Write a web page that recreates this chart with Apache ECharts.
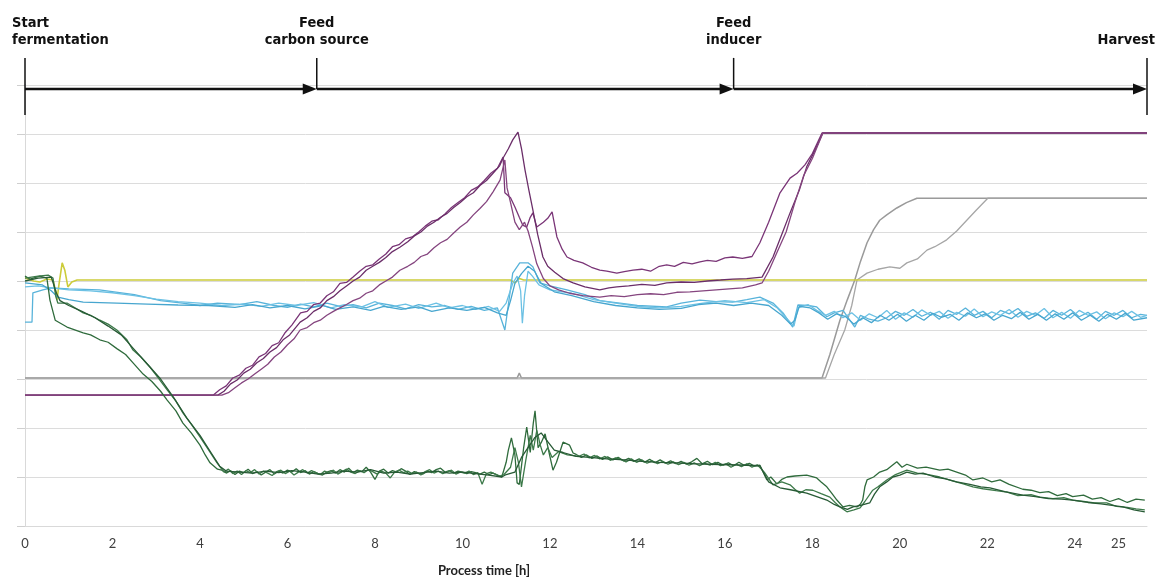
<!DOCTYPE html>
<html>
<head>
<meta charset="utf-8">
<script src="https://cdn.jsdelivr.net/npm/echarts@6/dist/echarts.min.js"></script>
<style>
html,body{margin:0;padding:0;background:#fff}
#chart{width:1158px;height:578px}
</style>
</head>
<body>
<div id="chart"></div>
<script>
// time axis [h]
var tMax = 25.65;
var xTickLabels = [0,2,4,6,8,10,12,14,16,18,20,22,24,25];

// process phases (time, label)
var phaseTimes = [0, 6.67, 16.2, 25.65];
var phaseLabels = ['Start\nfermentation', 'Feed\ncarbon source', 'Feed\ninducer', 'Harvest'];
var arrowLevel = 8.92;

// purple signals
var purpleA = [[0,2.67],[4.3,2.67],[4.45,2.78],[4.6,2.86],[4.75,3.02],[4.9,3.08],[5.05,3.22],[5.2,3.28],[5.35,3.45],[5.5,3.52],[5.65,3.68],[5.8,3.74],[5.95,3.95],[6.1,4.1],[6.3,4.35],[6.45,4.38],[6.6,4.52],[6.75,4.55],[6.9,4.7],[7.05,4.78],[7.2,4.95],[7.35,4.97],[7.5,5.08],[7.65,5.2],[7.8,5.3],[7.95,5.33],[8.1,5.45],[8.25,5.55],[8.4,5.7],[8.55,5.74],[8.7,5.86],[8.85,5.9],[9.0,6.0],[9.15,6.12],[9.3,6.22],[9.45,6.25],[9.6,6.37],[9.75,6.5],[9.9,6.6],[10.05,6.7],[10.2,6.85],[10.35,6.92],[10.5,7.05],[10.65,7.2],[10.8,7.3],[10.93,7.53],[10.97,6.8],[11.1,6.7],[11.2,6.51],[11.3,6.3],[11.38,6.14],[11.47,6.1],[11.55,6.3],[11.61,6.39],[11.7,6.1],[11.85,6.2],[11.95,6.28],[12.05,6.41],[12.16,5.9],[12.28,5.65],[12.39,5.49],[12.55,5.42],[12.75,5.37],[12.95,5.28],[13.14,5.22],[13.3,5.2],[13.53,5.16],[13.7,5.19],[13.9,5.22],[14.1,5.24],[14.3,5.2],[14.5,5.3],[14.67,5.33],[14.85,5.3],[15.05,5.38],[15.25,5.35],[15.43,5.39],[15.6,5.42],[15.8,5.4],[16.0,5.47],[16.18,5.49],[16.4,5.46],[16.62,5.5],[16.66,5.47],[16.8,5.78],[17.0,6.2],[17.26,6.8],[17.49,7.1],[17.65,7.2],[17.83,7.37],[18.0,7.6],[18.22,8.02],[25.65,8.02]];
var purpleB = [[0,2.67],[4.41,2.67],[4.55,2.75],[4.7,2.9],[4.85,2.98],[5.0,3.12],[5.15,3.2],[5.3,3.33],[5.45,3.42],[5.6,3.55],[5.75,3.64],[5.9,3.8],[6.05,3.9],[6.29,4.16],[6.45,4.25],[6.6,4.38],[6.75,4.45],[6.9,4.6],[7.05,4.68],[7.2,4.8],[7.35,4.9],[7.5,5.0],[7.65,5.08],[7.8,5.22],[7.95,5.3],[8.1,5.38],[8.25,5.48],[8.4,5.6],[8.57,5.69],[8.75,5.8],[8.9,5.92],[9.05,6.0],[9.2,6.12],[9.35,6.2],[9.5,6.3],[9.65,6.38],[9.8,6.5],[9.95,6.6],[10.1,6.72],[10.25,6.8],[10.4,6.95],[10.55,7.05],[10.7,7.2],[10.85,7.35],[10.93,7.51],[11.05,7.7],[11.15,7.88],[11.27,8.04],[11.35,7.7],[11.43,7.27],[11.52,6.85],[11.61,6.45],[11.72,5.95],[11.84,5.49],[11.95,5.3],[12.11,5.18],[12.3,5.05],[12.53,4.96],[12.8,4.88],[13.14,4.82],[13.35,4.86],[13.53,4.88],[13.8,4.9],[14.1,4.93],[14.4,4.91],[14.67,4.96],[15.0,4.98],[15.3,4.97],[15.6,5.0],[15.9,5.02],[16.18,5.04],[16.5,5.05],[16.85,5.08],[17.1,5.49],[17.3,5.95],[17.49,6.39],[17.7,6.85],[17.87,7.33],[18.05,7.65],[18.24,8.02],[25.65,8.02]];
var purpleC = [[0,2.67],[4.5,2.67],[4.65,2.72],[4.8,2.82],[4.95,2.92],[5.1,3.0],[5.25,3.1],[5.4,3.2],[5.55,3.3],[5.7,3.45],[5.85,3.55],[6.0,3.7],[6.15,3.82],[6.29,4.0],[6.45,4.05],[6.6,4.15],[6.75,4.2],[6.9,4.3],[7.05,4.38],[7.2,4.45],[7.35,4.52],[7.5,4.6],[7.65,4.65],[7.8,4.75],[7.95,4.8],[8.1,4.92],[8.25,5.0],[8.4,5.08],[8.57,5.22],[8.75,5.3],[8.9,5.38],[9.05,5.5],[9.2,5.55],[9.35,5.68],[9.5,5.78],[9.65,5.85],[9.8,5.98],[9.95,6.1],[10.1,6.2],[10.25,6.35],[10.4,6.48],[10.55,6.62],[10.7,6.82],[10.86,7.06],[10.97,7.47],[11.02,6.9],[11.1,6.6],[11.2,6.2],[11.3,6.05],[11.42,6.2],[11.5,6.02],[11.6,5.7],[11.7,5.35],[11.85,5.05],[12.0,4.9],[12.2,4.82],[12.45,4.75],[12.75,4.7],[13.14,4.67],[13.4,4.7],[13.7,4.68],[14.0,4.72],[14.3,4.74],[14.6,4.72],[14.9,4.77],[15.2,4.78],[15.5,4.8],[15.8,4.82],[16.1,4.84],[16.4,4.86],[16.7,4.92],[16.85,4.96],[17.0,5.2],[17.2,5.6],[17.4,6.0],[17.6,6.6],[17.8,7.15],[18.0,7.5],[18.24,8.02],[25.65,8.02]];

// grey signals
var greyA = [[0,3.02],[11.25,3.02],[11.3,3.12],[11.35,3.02],[18.22,3.02],[18.4,3.5],[18.63,4.2],[18.8,4.62],[18.97,5.02],[19.1,5.4],[19.25,5.78],[19.4,6.05],[19.54,6.24],[19.7,6.35],[19.93,6.49],[20.15,6.6],[20.39,6.69],[25.65,6.69]];
var greyB = [[0,3.02],[18.3,3.02],[18.5,3.5],[18.74,4.0],[18.9,4.5],[19.02,5.02],[19.25,5.16],[19.5,5.24],[19.77,5.29],[20.0,5.26],[20.16,5.37],[20.4,5.45],[20.62,5.63],[20.8,5.7],[21.07,5.84],[21.3,6.02],[21.53,6.24],[21.75,6.45],[22.01,6.69],[25.65,6.69]];

// yellow signal
var yellowA = [[0,5.06],[0.2,5.0],[0.34,4.98],[0.5,5.04],[0.64,5.02],[0.7,4.8],[0.73,4.61],[0.78,4.95],[0.85,5.37],[0.91,5.22],[0.98,4.88],[1.07,4.98],[1.19,5.02],[11.1,5.02],[11.2,4.96],[11.3,5.05],[11.4,5.02],[25.65,5.02]];

// light blue signals
var blueA = [[0,4.16],[0.16,4.16],[0.18,4.76],[0.41,4.82],[0.6,4.86],[1.0,4.84],[1.7,4.82],[2.5,4.72],[3.1,4.6],[3.6,4.55],[4.0,4.5],[4.4,4.55],[4.9,4.52],[5.3,4.58],[5.7,4.5],[6.0,4.46],[6.3,4.53],[6.6,4.47],[6.9,4.55],[7.2,4.48],[7.5,4.52],[7.8,4.45],[8.1,4.55],[8.4,4.5],[8.7,4.43],[9.0,4.52],[9.3,4.47],[9.6,4.5],[9.9,4.42],[10.2,4.48],[10.5,4.4],[10.8,4.45],[10.97,4.0],[11.15,5.16],[11.31,5.37],[11.5,5.37],[11.61,5.29],[11.77,4.96],[12.0,4.9],[12.39,4.82],[12.8,4.72],[13.14,4.6],[13.6,4.55],[14.0,4.5],[14.67,4.47],[15.0,4.55],[15.43,4.61],[15.8,4.58],[16.18,4.57],[16.5,4.62],[16.8,4.67],[17.1,4.55],[17.33,4.35],[17.55,4.06],[17.67,4.51],[17.9,4.5],[18.1,4.47],[18.33,4.27],[18.5,4.35],[18.7,4.4],[18.97,4.06],[19.1,4.3],[19.3,4.22],[19.5,4.18],[19.7,4.25],[19.9,4.38],[20.1,4.3],[20.3,4.42],[20.5,4.28],[20.7,4.36],[20.9,4.22],[21.1,4.4],[21.3,4.32],[21.5,4.45],[21.7,4.3],[21.9,4.38],[22.1,4.25],[22.3,4.4],[22.5,4.33],[22.7,4.44],[22.9,4.28],[23.1,4.35],[23.3,4.24],[23.5,4.4],[23.7,4.3],[23.9,4.42],[24.1,4.27],[24.3,4.36],[24.5,4.22],[24.7,4.38],[24.9,4.3],[25.1,4.4],[25.3,4.25],[25.5,4.32],[25.65,4.3]];
var blueB = [[0,4.88],[0.3,4.9],[0.6,4.86],[1.0,4.82],[1.5,4.8],[2.0,4.76],[2.5,4.7],[3.0,4.63],[3.5,4.58],[4.0,4.55],[4.5,4.5],[5.0,4.53],[5.4,4.48],[5.8,4.55],[6.2,4.5],[6.6,4.56],[7.0,4.45],[7.3,4.52],[7.7,4.47],[8.0,4.58],[8.3,4.46],[8.7,4.53],[9.0,4.44],[9.4,4.55],[9.7,4.45],[10.0,4.5],[10.3,4.42],[10.6,4.48],[10.85,4.38],[11.0,4.55],[11.15,4.95],[11.25,5.1],[11.33,4.8],[11.37,4.14],[11.42,4.7],[11.5,5.2],[11.6,5.1],[11.75,4.92],[12.0,4.82],[12.5,4.75],[13.0,4.62],[13.5,4.55],[14.0,4.48],[14.5,4.45],[15.0,4.48],[15.5,4.55],[16.0,4.6],[16.5,4.56],[16.9,4.62],[17.2,4.45],[17.45,4.2],[17.58,4.08],[17.67,4.45],[17.9,4.52],[18.1,4.4],[18.3,4.3],[18.5,4.38],[18.7,4.25],[18.9,4.35],[19.1,4.2],[19.3,4.33],[19.5,4.25],[19.7,4.4],[19.9,4.22],[20.1,4.35],[20.3,4.26],[20.5,4.41],[20.7,4.3],[20.9,4.38],[21.1,4.24],[21.3,4.36],[21.5,4.28],[21.7,4.43],[21.9,4.27],[22.1,4.37],[22.3,4.3],[22.5,4.42],[22.7,4.26],[22.9,4.38],[23.1,4.3],[23.3,4.44],[23.5,4.25],[23.7,4.36],[23.9,4.24],[24.1,4.4],[24.3,4.3],[24.5,4.37],[24.7,4.23],[24.9,4.35],[25.1,4.27],[25.3,4.38],[25.5,4.26],[25.65,4.3]];
var blueC = [[0,4.96],[0.4,4.92],[0.6,4.8],[0.75,4.67],[1.0,4.62],[1.33,4.57],[2.1,4.55],[2.8,4.53],[3.5,4.51],[4.2,4.5],[4.8,4.46],[5.2,4.52],[5.6,4.45],[6.0,4.5],[6.4,4.43],[6.8,4.5],[7.1,4.42],[7.5,4.47],[7.9,4.4],[8.2,4.48],[8.6,4.42],[9.0,4.47],[9.3,4.38],[9.7,4.45],[10.1,4.4],[10.5,4.46],[10.8,4.35],[11.0,4.3],[11.1,4.6],[11.2,4.95],[11.35,5.15],[11.5,5.3],[11.65,5.2],[11.8,4.95],[12.1,4.78],[12.5,4.7],[13.0,4.58],[13.5,4.5],[14.0,4.45],[14.5,4.42],[15.0,4.44],[15.4,4.52],[15.8,4.55],[16.2,4.5],[16.6,4.55],[17.0,4.5],[17.3,4.3],[17.5,4.12],[17.6,4.2],[17.7,4.48],[17.95,4.45],[18.15,4.35],[18.35,4.22],[18.55,4.33],[18.75,4.28],[18.95,4.12],[19.15,4.25],[19.35,4.15],[19.55,4.3],[19.75,4.2],[19.95,4.32],[20.15,4.18],[20.35,4.3],[20.55,4.2],[20.75,4.34],[20.95,4.26],[21.15,4.32],[21.35,4.2],[21.55,4.35],[21.75,4.25],[21.95,4.33],[22.15,4.2],[22.35,4.3],[22.55,4.23],[22.75,4.36],[22.95,4.22],[23.15,4.32],[23.35,4.2],[23.55,4.33],[23.75,4.22],[23.95,4.35],[24.15,4.2],[24.35,4.3],[24.55,4.18],[24.75,4.32],[24.95,4.22],[25.15,4.34],[25.35,4.2],[25.65,4.25]];

// dark green signals
var greenA = [[0,5.1],[0.11,5.04],[0.34,5.1],[0.5,5.06],[0.57,4.61],[0.69,4.2],[0.96,4.06],[1.33,3.94],[1.5,3.9],[1.71,3.8],[1.9,3.75],[2.1,3.62],[2.3,3.5],[2.47,3.33],[2.7,3.1],[2.9,2.95],[3.1,2.75],[3.25,2.57],[3.45,2.35],[3.61,2.1],[3.8,1.9],[4.0,1.65],[4.12,1.45],[4.23,1.29],[4.4,1.16],
  [4.5,1.14],[4.6,1.08],[4.7,1.13],[4.8,1.05],[4.9,1.12],[5.0,1.09],[5.1,1.16],[5.2,1.07],[5.3,1.11],[5.4,1.04],[5.5,1.1],[5.6,1.15],[5.7,1.06],[5.8,1.12],[5.9,1.08],[6.0,1.14],[6.1,1.1],[6.2,1.17],[6.3,1.09],[6.4,1.13],[6.5,1.06],[6.6,1.11],[6.7,1.07],[6.8,1.04],[6.9,1.1],[7.0,1.13],[7.1,1.08],[7.2,1.15],[7.3,1.1],[7.4,1.18],[7.5,1.09],[7.6,1.14],[7.7,1.11],[7.8,1.2],[7.9,1.1],[8.0,0.95],[8.1,1.12],[8.2,1.16],[8.3,1.08],[8.4,1.13],[8.5,1.1],[8.6,1.17],[8.7,1.12],[8.8,1.05],[8.9,1.11],[9.0,1.08],[9.1,1.06],[9.2,1.12],[9.3,1.09],[9.4,1.15],[9.5,1.18],[9.6,1.1],[9.7,1.13],[9.8,1.08],[9.9,1.12],[10.0,1.1],[10.1,1.07],[10.2,1.11],[10.3,1.09],[10.4,1.06],[10.5,1.1],[10.6,1.05],[10.7,1.08],[10.8,1.04],
  [10.9,1.0],[11.0,1.3],[11.05,1.55],[11.12,1.8],[11.2,1.45],[11.25,0.88],[11.3,0.85],[11.4,1.6],[11.47,2.02],[11.55,1.5],[11.62,2.1],[11.66,2.35],[11.73,1.6],[11.8,1.7],[11.89,1.88],[11.98,1.5],[12.07,1.14],[12.15,1.3],[12.3,1.71],[12.45,1.65],[12.53,1.49],
  [12.6,1.46],[12.72,1.4],[12.84,1.45],[12.96,1.38],[13.08,1.43],[13.2,1.36],[13.32,1.41],[13.44,1.35],[13.56,1.4],[13.68,1.33],[13.8,1.38],[13.92,1.32],[14.04,1.37],[14.16,1.3],[14.28,1.36],[14.4,1.29],[14.52,1.35],[14.64,1.28],[14.76,1.33],[14.88,1.27],[15.0,1.32],[15.12,1.26],[15.24,1.31],[15.36,1.38],[15.48,1.27],[15.6,1.32],[15.72,1.25],[15.84,1.3],[15.96,1.24],[16.08,1.29],[16.2,1.23],[16.32,1.3],[16.44,1.24],[16.56,1.28],[16.68,1.22],[16.8,1.24],
  [16.96,0.94],[17.05,1.0],[17.19,0.86],[17.3,0.95],[17.42,1.0],[17.6,1.02],[17.87,1.04],[18.1,0.98],[18.2,0.9],[18.33,0.8],[18.45,0.66],[18.56,0.53],[18.7,0.39],[18.85,0.42],[19.02,0.39],[19.1,0.45],[19.15,0.53],[19.2,0.8],[19.25,0.94],[19.4,1.0],[19.54,1.1],[19.7,1.15],[19.8,1.22],[19.93,1.31],[20.05,1.2],[20.16,1.26],[20.4,1.18],[20.6,1.2],[20.91,1.14],[21.1,1.16],[21.3,1.1],[21.5,1.04],[21.67,0.94],[21.9,0.98],[22.1,0.9],[22.29,0.94],[22.5,0.85],[22.81,0.75],[23.0,0.73],[23.2,0.68],[23.4,0.7],[23.6,0.62],[23.8,0.66],[23.95,0.6],[24.2,0.63],[24.4,0.55],[24.6,0.58],[24.8,0.5],[25.0,0.56],[25.2,0.48],[25.4,0.55],[25.6,0.53]];
var greenB = [[0,5.06],[0.3,5.1],[0.53,5.12],[0.64,5.06],[0.7,4.7],[0.75,4.55],[0.96,4.55],[1.15,4.45],[1.33,4.35],[1.5,4.3],[1.71,4.2],[1.9,4.12],[2.1,4.0],[2.33,3.8],[2.47,3.59],[2.65,3.45],[2.86,3.24],[3.05,3.02],[3.25,2.78],[3.45,2.55],[3.61,2.31],[3.8,2.08],[4.0,1.82],[4.2,1.55],[4.39,1.29],
  [4.55,1.1],[4.65,1.16],[4.75,1.07],[4.85,1.12],[4.95,1.05],[5.05,1.13],[5.15,1.09],[5.25,1.15],[5.35,1.06],[5.45,1.12],[5.55,1.08],[5.65,1.03],[5.75,1.11],[5.85,1.14],[5.95,1.07],[6.05,1.12],[6.15,1.04],[6.25,1.1],[6.35,1.15],[6.45,1.08],[6.55,1.13],[6.65,1.09],[6.75,1.05],[6.85,1.12],[6.95,1.08],[7.05,1.14],[7.15,1.06],[7.25,1.11],[7.35,1.16],[7.45,1.1],[7.55,1.07],[7.65,1.13],[7.75,1.09],[7.85,1.15],[7.95,1.11],[8.05,1.06],[8.15,1.12],[8.25,1.08],[8.35,0.98],[8.45,1.1],[8.55,1.14],[8.65,1.09],[8.75,1.12],[8.85,1.07],[8.95,1.1],[9.05,1.04],[9.15,1.11],[9.25,1.15],[9.35,1.08],[9.45,1.12],[9.55,1.07],[9.65,1.1],[9.75,1.14],[9.85,1.06],[9.95,1.1],[10.05,1.08],[10.15,1.12],[10.25,1.05],[10.35,1.09],[10.45,0.85],[10.55,1.07],[10.65,1.1],[10.75,1.06],[10.85,1.02],
  [10.95,1.05],[11.1,1.2],[11.2,1.6],[11.28,1.3],[11.35,0.8],[11.45,1.35],[11.55,1.85],[11.62,1.55],[11.7,1.95],[11.78,1.65],[11.85,1.45],[11.95,1.6],[12.05,1.4],[12.2,1.52],[12.4,1.45],
  [12.66,1.42],[12.78,1.47],[12.9,1.39],[13.02,1.44],[13.14,1.37],[13.26,1.42],[13.38,1.34],[13.5,1.39],[13.62,1.36],[13.74,1.31],[13.86,1.37],[13.98,1.3],[14.1,1.35],[14.22,1.28],[14.34,1.33],[14.46,1.27],[14.58,1.32],[14.7,1.26],[14.82,1.31],[14.94,1.25],[15.06,1.3],[15.18,1.24],[15.3,1.29],[15.42,1.23],[15.54,1.28],[15.66,1.24],[15.78,1.3],[15.9,1.23],[16.02,1.27],[16.14,1.2],[16.26,1.26],[16.38,1.21],[16.5,1.27],[16.62,1.2],[16.74,1.25],
  [16.9,1.1],[17.1,0.84],[17.3,0.9],[17.49,0.84],[17.6,0.75],[17.71,0.67],[17.85,0.74],[18.01,0.73],[18.2,0.66],[18.4,0.59],[18.52,0.48],[18.63,0.39],[18.79,0.29],[18.95,0.33],[19.09,0.37],[19.2,0.5],[19.38,0.73],[19.5,0.8],[19.7,0.94],[19.9,1.05],[20.16,1.14],[20.4,1.08],[20.65,1.05],[20.91,1.0],[21.2,0.92],[21.45,0.86],[21.67,0.8],[21.9,0.76],[22.2,0.72],[22.45,0.69],[22.7,0.62],[23.0,0.64],[23.2,0.59],[23.5,0.56],[23.75,0.58],[23.95,0.53],[24.2,0.5],[24.45,0.47],[24.73,0.47],[24.95,0.4],[25.2,0.38],[25.4,0.35],[25.6,0.33]];
var greenC = [[0,5.0],[0.3,5.06],[0.6,5.08],[0.72,4.75],[0.8,4.6],[1.0,4.5],[1.3,4.38],[1.6,4.25],[1.9,4.08],[2.2,3.9],[2.5,3.6],[2.8,3.3],[3.1,3.0],[3.4,2.62],[3.7,2.2],[4.0,1.85],[4.25,1.5],[4.45,1.22],[4.6,1.12],
  [4.9,1.1],[5.2,1.08],[5.5,1.12],[5.8,1.09],[6.1,1.13],[6.4,1.1],[6.7,1.06],[7.0,1.08],[7.3,1.12],[7.6,1.1],[7.9,1.15],[8.2,1.08],[8.5,1.1],[8.8,1.06],[9.1,1.09],[9.4,1.12],[9.7,1.08],[10.0,1.1],[10.3,1.07],[10.6,1.04],[10.9,1.0],
  [11.0,1.05],[11.2,1.1],[11.35,1.4],[11.5,1.6],[11.65,1.8],[11.8,1.9],[11.95,1.72],[12.1,1.55],[12.3,1.5],[12.6,1.42],
  [12.9,1.4],[13.3,1.37],[13.7,1.35],[14.1,1.32],[14.5,1.3],[14.9,1.29],[15.3,1.27],[15.7,1.26],[16.1,1.25],[16.5,1.24],[16.8,1.23],
  [17.0,0.9],[17.26,0.78],[17.5,0.74],[17.87,0.67],[18.1,0.6],[18.33,0.53],[18.5,0.44],[18.63,0.39],[18.8,0.34],[18.93,0.39],[19.1,0.42],[19.31,0.47],[19.42,0.65],[19.54,0.8],[19.7,0.9],[19.84,1.0],[20.0,1.04],[20.16,1.1],[20.35,1.06],[20.53,1.08],[20.8,1.0],[21.05,0.96],[21.3,0.9],[21.6,0.85],[21.85,0.8],[22.06,0.78],[22.4,0.7],[22.81,0.63],[23.1,0.6],[23.4,0.56],[23.7,0.55],[23.95,0.53],[24.3,0.48],[24.6,0.45],[24.85,0.42],[25.1,0.39],[25.35,0.33],[25.6,0.29]];

var chart = echarts.init(document.getElementById('chart'), null, {renderer: 'canvas'});

function line(data, color, width) {
	return {
		type: 'line',
		data: data,
		symbol: 'none',
		showSymbol: false,
		silent: true,
		lineStyle: {width: width || 1.3, color: color},
		itemStyle: {color: color}
	};
}

var option = {
	animation: false,
	backgroundColor: '#fff',
	grid: {left: 25, right: 11, top: 85, bottom: 52, containLabel: false},
	xAxis: {
		type: 'value',
		min: 0,
		max: tMax,
		interval: 1,
		splitLine: {show: false},
		axisTick: {show: false},
		axisLine: {lineStyle: {color: '#d9d9d9', width: 1}},
		axisLabel: {
			interval: 0,
			margin: 11,
			showMaxLabel: false,
			color: '#404040',
			fontFamily: 'Lato',
			fontSize: 13,
			formatter: function (v) {
				return xTickLabels.indexOf(v) >= 0 ? String(v) : '';
			}
		}
	},
	yAxis: [{
		type: 'value',
		min: 0,
		max: 9,
		interval: 1,
		axisLabel: {show: false},
		axisLine: {show: true, onZero: false, lineStyle: {color: '#7d8cc4', type: 'dotted', width: 1}},
		axisTick: {show: true, length: 8, lineStyle: {color: '#cfcfcf'}},
		splitLine: {lineStyle: {color: '#dcdcdc', width: 1}}
	}, {
		type: 'value',
		position: 'right',
		min: 0,
		max: 9,
		axisLabel: {show: false},
		axisTick: {show: false},
		splitLine: {show: false},
		axisLine: {show: true, lineStyle: {color: '#d9d9d9'}}
	}],
	series: [
		line(greyA, '#9a9a9a', 1.5),
		line(greyB, '#a6a6a6', 1.3),
		line(yellowA, '#cccc3a', 1.6),
		line(blueA, '#58b3da'),
		line(blueB, '#6cc1e4'),
		line(blueC, '#47a6cf'),
		line(purpleA, '#7a3577'),
		line(purpleB, '#6b2e69'),
		line(purpleC, '#85457f'),
		line(greenA, '#2f6b3c'),
		line(greenB, '#3d7a4a'),
		line(greenC, '#275a35')
	]
};
chart.setOption(option);

// process phase annotations above the plot
function phaseGraphics() {
	var yA = chart.convertToPixel({yAxisIndex: 0}, arrowLevel);
	var font = 'bold 14.5px "Liberation Sans Narrow", "DejaVu Sans Condensed", sans-serif';
	var els = [];
	var xs = phaseTimes.map(function (t) { return chart.convertToPixel({xAxisIndex: 0}, t); });
	var last = xs.length - 1;
	xs.forEach(function (x, i) {
		var bottom = (i === 0 || i === last) ? yA + 26 : yA;
		els.push({type: 'line', shape: {x1: x, y1: yA - 31, x2: x, y2: bottom},
			style: {stroke: '#111', lineWidth: 1.5}, z: 100});
		if (i < last) {
			var xe = xs[i + 1];
			els.push({type: 'line', shape: {x1: x, y1: yA, x2: xe - 10, y2: yA},
				style: {stroke: '#111', lineWidth: 2.5}, z: 100});
			els.push({type: 'polygon', shape: {points: [[xe - 14, yA - 5.5], [xe, yA], [xe - 14, yA + 5.5]]},
				style: {fill: '#111'}, z: 100});
		}
		var tx, align, ty = 15;
		if (i === 0) { tx = x - 13; align = 'left'; }
		else if (i === last) { tx = x + 8; align = 'right'; ty = 32; }
		else { tx = x; align = 'center'; }
		els.push({type: 'text', x: tx, y: ty, z: 100,
			style: {text: phaseLabels[i], font: font, fill: '#111', textAlign: align, textVerticalAlign: 'top', lineHeight: 17}});
	});
	// axis title
	els.push({type: 'text', x: 484, y: 571, z: 100,
		style: {text: 'Process time [h]', font: 'bold 13px Lato, sans-serif', fill: '#222', textAlign: 'center', textVerticalAlign: 'middle'}});
	return els;
}
chart.setOption({graphic: phaseGraphics()});
</script>
</body>
</html>
